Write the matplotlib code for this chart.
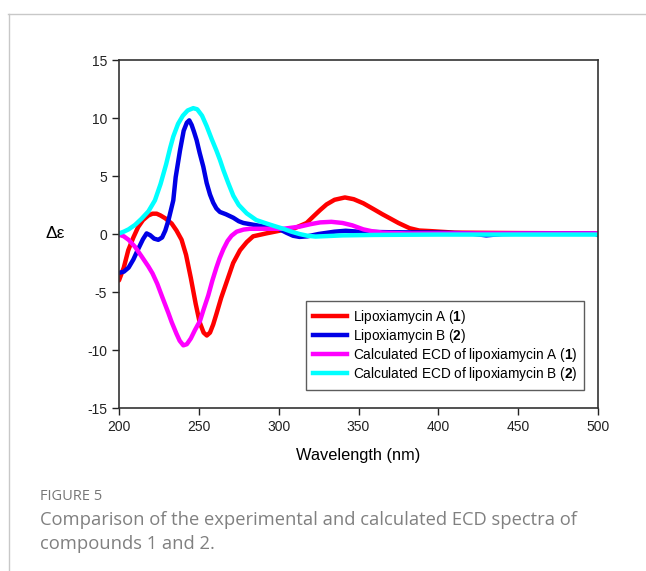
import matplotlib.pyplot as plt
from matplotlib.lines import Line2D

# Experimental ECD, lipoxiamycin A (1)
wl_a = [200, 203, 205.8, 209, 212, 215, 218.4, 221, 223.6, 226, 229, 233, 236, 239.2, 242, 245,
        248, 250.5, 253, 255, 257, 259, 261, 264, 268, 271.5, 275.8, 280, 284, 292.5, 303, 310,
        317.5, 322, 326, 330, 335, 341.5, 347, 353, 360, 365, 369.7, 375, 382, 388, 395, 410,
        450, 500]
de_a = [-4.0, -2.9, -1.4, -0.3, 0.6, 1.2, 1.6, 1.75, 1.75, 1.6, 1.35, 0.9, 0.3, -0.5, -1.8,
        -3.8, -6.0, -7.6, -8.5, -8.75, -8.5, -7.8, -6.9, -5.5, -3.9, -2.5, -1.4, -0.7, -0.2,
        0.06, 0.35, 0.5, 0.95, 1.55, 2.07, 2.55, 2.95, 3.15, 3.0, 2.65, 2.1, 1.7, 1.35, 0.95,
        0.5, 0.3, 0.25, 0.12, 0.08, 0.05]

# Experimental ECD, lipoxiamycin B (2)
wl_b = [200, 203, 206, 209, 212, 215, 217.3, 219.5, 222, 224.6, 227, 229, 231, 234, 235.5,
        238.2, 240.5, 242.5, 244, 245.5, 247, 248.6, 250.5, 252.8, 254.9, 257, 259, 261, 263.2,
        267, 271.6, 275, 277.9, 284, 292.5, 300, 305, 309, 313, 318, 325, 335, 342, 350, 370,
        400, 420, 430, 440, 460, 480, 498, 500]
de_b = [-3.35, -3.25, -2.9, -2.2, -1.3, -0.45, 0.05, -0.1, -0.4, -0.5, -0.3, 0.3, 1.2, 2.9,
        4.9, 7.2, 8.9, 9.6, 9.8, 9.4, 8.8, 8.1, 7.0, 5.8, 4.4, 3.4, 2.7, 2.2, 1.9, 1.7, 1.4,
        1.1, 0.95, 0.8, 0.6, 0.45, 0.1, -0.15, -0.25, -0.2, 0.0, 0.2, 0.28, 0.2, 0.15, 0.12,
        0.05, -0.12, 0.0, 0.05, 0.05, 0.05, -0.1]

# Calculated ECD of 1
wl_ca = [200, 203, 206, 210, 214, 218.4, 221, 224, 227, 230.9, 233, 236, 238, 240.3, 242.5,
         245, 247.5, 250.7, 253, 255.9, 258.5, 261, 263, 265.4, 268, 270.5, 273.7, 278, 282,
         290, 303, 313, 320, 326, 333, 340, 346, 353, 358, 365, 380, 500]
de_ca = [-0.05, -0.2, -0.5, -1.1, -1.9, -2.8, -3.4, -4.3, -5.4, -6.8, -7.6, -8.6, -9.2, -9.6,
         -9.5, -9.0, -8.3, -7.5, -6.5, -5.3, -4.0, -2.9, -2.1, -1.3, -0.6, -0.15, 0.2, 0.38,
         0.45, 0.45, 0.45, 0.63, 0.85, 1.0, 1.05, 0.95, 0.75, 0.4, 0.25, 0.12, 0.05, 0.05]

# Calculated ECD of 2
wl_cb = [200, 203, 206, 210, 214, 218.4, 222.5, 226, 229.5, 232, 234, 237, 240, 243, 246.5,
         249, 252, 254.9, 258, 261, 263.2, 265.4, 268.4, 271.6, 275, 280, 286, 292.5, 297,
         302.9, 308, 313, 318, 323, 330, 340, 360, 400, 500]
de_cb = [0.05, 0.2, 0.4, 0.78, 1.3, 1.95, 2.9, 4.3, 6.0, 7.4, 8.4, 9.5, 10.2, 10.65, 10.85,
         10.75, 10.2, 9.3, 8.2, 7.2, 6.4, 5.5, 4.4, 3.3, 2.5, 1.78, 1.2, 0.9, 0.7, 0.45, 0.2,
         0.0, -0.15, -0.22, -0.18, -0.12, -0.08, -0.05, -0.05]

labels = ["Lipoxiamycin A ($\\mathbf{1}$)", "Lipoxiamycin B ($\\mathbf{2}$)",
          "Calculated ECD of lipoxiamycin A ($\\mathbf{1}$)",
          "Calculated ECD of lipoxiamycin B ($\\mathbf{2}$)"]
colors = ["#ff0000", "#0000e6", "#ff00ff", "#00ffff"]

plt.rcParams['font.family'] = ['Liberation Sans', 'DejaVu Sans']
plt.rcParams['mathtext.fontset'] = 'custom'
plt.rcParams['mathtext.rm'] = 'Liberation Sans'
plt.rcParams['mathtext.bf'] = 'Liberation Sans:bold'
plt.rcParams['axes.unicode_minus'] = False

fig = plt.figure(figsize=(6.46, 5.71), dpi=100)

# page frame lines
fig.add_artist(Line2D([8 / 646, 1], [1 - 14 / 571] * 2, color="#c8c8c8", lw=1))
fig.add_artist(Line2D([9 / 646] * 2, [0, 1 - 14 / 571], color="#c8c8c8", lw=1))

ax = fig.add_axes([119 / 646, 1 - 408 / 571, 479 / 646, 348 / 571])
for x, y, c in zip([wl_a, wl_b, wl_ca, wl_cb], [de_a, de_b, de_ca, de_cb], colors):
    ax.plot(x, y, color=c, lw=3.2, solid_capstyle='round', solid_joinstyle='round')

ax.set_xlim(200, 500)
ax.set_ylim(-15, 15)
ax.set_xticks(range(200, 501, 50))
ax.set_yticks(range(-15, 16, 5))
ax.tick_params(direction='out', length=5, width=1, labelsize=10, colors='#222222')
for s in ax.spines.values():
    s.set_color('#333333')
    s.set_linewidth(1.2)

ax.set_xlabel("Wavelength (nm)", fontsize=11.8, labelpad=10)
fig.text(55 / 646, 1 - 234 / 571, "Δε", fontsize=12.5, ha='center', va='center')

handles = [Line2D([], [], color=c, lw=3.2) for c in colors]
leg = ax.legend(handles, labels, loc='lower right', bbox_to_anchor=(584 / 646, 1 - 390 / 571),
                bbox_transform=fig.transFigure, fontsize=9.8, frameon=True, fancybox=False,
                edgecolor='#333333', handlelength=2.5, handletextpad=0.44, labelspacing=0.08,
                borderpad=0.5, borderaxespad=0)
leg.get_frame().set_linewidth(1.0)

fig.text(40 / 646, 1 - 497 / 571, "FIGURE 5", fontsize=10.5, color="#777777",
         family="Open Sans", va='center')
fig.text(40 / 646, 1 - 520 / 571, "Comparison of the experimental and calculated ECD spectra of",
         fontsize=13.2, color="#808080", family="Open Sans", va='center')
fig.text(40 / 646, 1 - 544 / 571, "compounds 1 and 2.", fontsize=13.2, color="#808080",
         family="Open Sans", va='center')

fig.savefig("out.png", dpi=100)
